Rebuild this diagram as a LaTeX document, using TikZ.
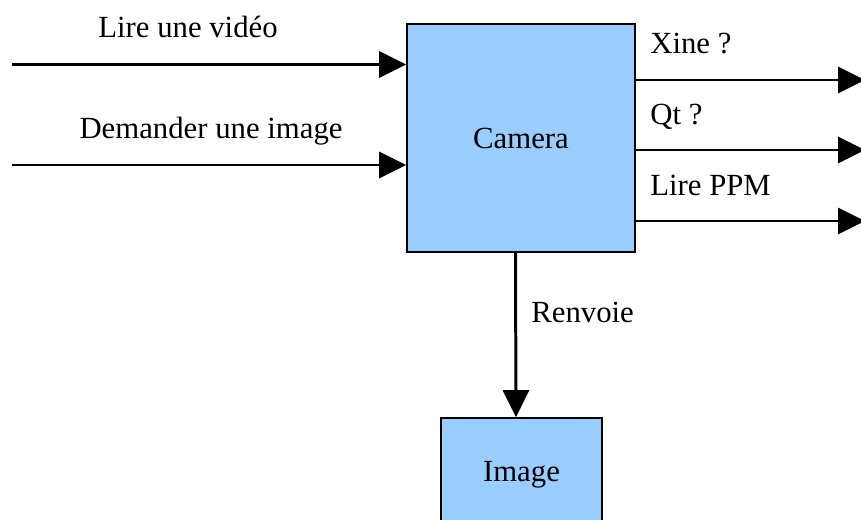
\documentclass[tikz,border=0pt]{standalone}
\usepackage{fontspec}
\setmainfont{Liberation Serif}
\usepackage{tikz}
\usetikzlibrary{positioning,arrows.meta,calc}
\definecolor{bleubloc}{HTML}{99CCFF}

\begin{document}
\begin{tikzpicture}[>={Triangle[length=5.4mm,width=5.2mm]},
    font=\fontsize{17.5}{21}\selectfont,
    bloc/.style={draw=black,line width=0.9pt,fill=bleubloc,inner sep=0pt},
    fleche/.style={->,line width=1.7pt}]

    \useasboundingbox (0,0) rectangle (17.22,10.38);
    \clip (0,0) rectangle (17.22,10.38);

    \node[bloc,minimum width=4.56cm,minimum height=4.56cm] (camera) at (10.42,7.62) {Camera};
    \node[bloc,minimum width=3.22cm,minimum height=2.28cm] (image) at (10.43,0.88) {Image};

    % entrees a gauche
    \coordinate (lire) at (0.24,9.09);
    \coordinate (demande) at (0.24,7.08);
    \draw[fleche] (lire) -- (lire -| camera.west);
    \draw[fleche] (demande) -- (demande -| camera.west);

    % sorties a droite
    \coordinate (xine) at (17.30,8.78);
    \coordinate (qt) at (17.30,7.38);
    \coordinate (ppm) at (17.30,5.96);
    \draw[fleche] (xine -| camera.east) -- (xine);
    \draw[fleche] (qt -| camera.east) -- (qt);
    \draw[fleche] (ppm -| camera.east) -- (ppm);

    \draw[fleche] ([xshift=-1.1mm]camera.south) -- ([xshift=-1.1mm]image.north);

    % Labels
    \node[anchor=base] (tlire) at (3.76,9.64) {Lire une vidéo};
    \node[anchor=base] (tdemande) at (4.22,7.62) {Demander une image};
    \node[anchor=base west,inner sep=0pt] (txine) at (13.0,9.32) {Xine ?};
    \node[anchor=base west,inner sep=0pt] (tqt) at (13.0,7.90) {Qt ?};
    \node[anchor=base west,inner sep=0pt] (tppm) at (13.0,6.48) {Lire PPM};
    \node[anchor=base west,inner sep=0pt] (trenvoie) at (10.62,3.94) {Renvoie};
\end{tikzpicture}
\end{document}
